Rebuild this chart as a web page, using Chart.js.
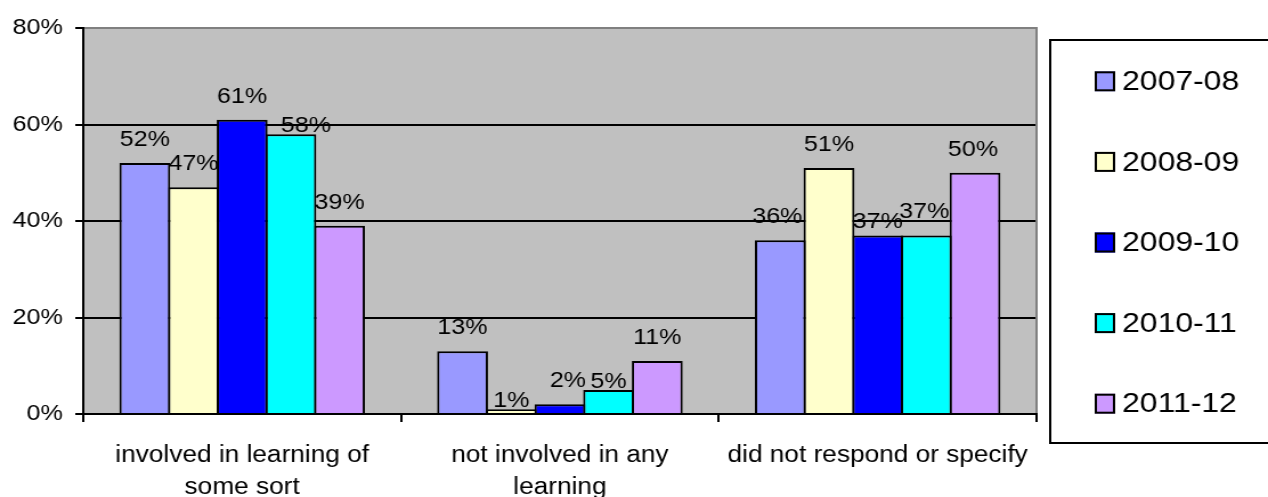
<!DOCTYPE html>
<html>
<head>
<meta charset="utf-8">
<title>Learning involvement by year</title>
<script src="https://cdn.jsdelivr.net/npm/chart.js@4/dist/chart.umd.min.js"></script>
<style>
  html, body { margin: 0; padding: 0; background: #fff; overflow: hidden; }
  #chart { display: block; }
</style>
</head>
<body>
<!-- drawn narrow, shown wide: the text keeps the wide look of the original export -->
<canvas id="chart" width="1112" height="497" style="width:1268px;height:497px"></canvas>
<script>
const categories = [
  ["involved in learning of", "some sort"],
  ["not involved in any", "learning"],
  ["did not respond or specify"],
];
const years = ["2007-08", "2008-09", "2009-10", "2010-11", "2011-12"];
const colors = ["#9999ff", "#ffffcc", "#0000ff", "#00ffff", "#cc99ff"];

const y0708 = [52, 13, 36];
const y0809 = [47, 1, 51];
const y0910 = [61, 2, 37];
const y1011 = [58, 5, 37];
const y1112 = [39, 11, 50];

const yTickLabels = ["0%", "20%", "40%", "60%", "80%"];

// hand-moved value labels, [dx, dy] per year and category
const labelNudge = [
  [[0, 0], [0, 0], [-3, 0]],
  [[0, 0], [0, 15], [0, 0]],
  [[0, 0], [8, 0], [0, 10]],
  [[15, 15], [0, 15], [-2, 0]],
  [[0, 0], [0, 0], [-2, 0]],
];

const SX = 1268 / 1112;
const FONT = "'Liberation Sans', Arial, sans-serif";

const chart = document.getElementById("chart");

const plotBox = {
  id: "plotBox",
  beforeDraw(c) {
    const { ctx, chartArea: a } = c;
    ctx.save();
    ctx.fillStyle = "#ffffff";
    ctx.fillRect(0, 0, c.width, c.height);
    ctx.fillStyle = "#c0c0c0";
    ctx.fillRect(a.left, a.top, a.right - a.left, a.bottom - a.top);
    ctx.restore();
  },
  beforeDatasetsDraw(c) {
    const { ctx, chartArea: a } = c;
    ctx.save();
    ctx.strokeStyle = "#808080";
    ctx.lineWidth = 2;
    ctx.beginPath();
    ctx.moveTo(a.right, a.top - 1);
    ctx.lineTo(a.right, a.bottom);
    ctx.stroke();
    ctx.restore();
  },
};

const valueLabels = {
  id: "valueLabels",
  afterDatasetsDraw(c) {
    const ctx = c.ctx;
    ctx.save();
    ctx.font = "22px " + FONT;
    ctx.fillStyle = "#000";
    ctx.textAlign = "center";
    ctx.textBaseline = "alphabetic";
    c.data.datasets.forEach((ds, i) => {
      c.getDatasetMeta(i).data.forEach((bar, j) => {
        const [dx, dy] = labelNudge[i][j];
        ctx.fillText(ds.data[j] + "%", bar.x + dx / SX, bar.y - 17 + dy);
      });
    });
    ctx.restore();
  },
};

// framed legend to the right of the plot
const boxLegend = {
  id: "boxLegend",
  afterDraw(c) {
    const { ctx, chartArea: a } = c;
    const left = a.right + 12;
    const top = a.top + 12;
    const bottom = a.bottom + 29;
    const sets = c.data.datasets;
    const step = (bottom - top) / sets.length;
    ctx.save();
    ctx.strokeStyle = "#000";
    ctx.lineWidth = 2;
    ctx.strokeRect(left, top, c.width - left + 10, bottom - top);
    ctx.font = "28px " + FONT;
    ctx.textBaseline = "middle";
    ctx.textAlign = "left";
    sets.forEach((ds, i) => {
      const cy = top + step * (i + 0.5) + 2;
      const bx = left + 39;
      const by = cy - 11;
      ctx.fillStyle = ds.backgroundColor;
      ctx.fillRect(bx, by, 18, 20);
      ctx.strokeRect(bx + 1, by + 1, 16, 18);
      ctx.fillStyle = "#000";
      ctx.fillText(ds.label, bx + 24, cy);
    });
    ctx.restore();
  },
};

const series = [y0708, y0809, y0910, y1011, y1112];

new Chart(chart, {
  type: "bar",
  data: {
    labels: categories,
    datasets: series.map((values, i) => ({
      label: years[i],
      data: values,
      backgroundColor: colors[i],
      borderColor: "#000",
      borderWidth: 2,
      categoryPercentage: 0.766,
      barPercentage: 1.045,
    })),
  },
  options: {
    responsive: false,
    animation: false,
    layout: { padding: { left: 0, right: 203, top: 28, bottom: -25 } },
    plugins: {
      legend: { display: false },
      tooltip: { enabled: false },
    },
    scales: {
      x: {
        grid: {
          offset: true,
          drawOnChartArea: false,
          tickLength: 8,
          color: "#000",
          lineWidth: 2,
        },
        border: { color: "#000", width: 2, z: 1 },
        ticks: {
          color: "#000",
          padding: 18,
          maxRotation: 0,
          autoSkip: false,
          font: { family: FONT, size: 23, lineHeight: "32px" },
        },
      },
      y: {
        min: 0,
        max: 80,
        ticks: {
          stepSize: 20,
          color: "#000",
          padding: 11,
          font: { family: FONT, size: 22 },
          callback: (v, i) => yTickLabels[i],
        },
        grid: {
          color: (ctx) => (ctx.tick && ctx.tick.value === 80 ? "#808080" : "#000"),
          tickColor: "#000",
          lineWidth: 2,
          tickLength: 7,
        },
        border: { color: "#000", width: 2, z: 1 },
      },
    },
  },
  plugins: [plotBox, valueLabels, boxLegend],
});
</script>
</body>
</html>
